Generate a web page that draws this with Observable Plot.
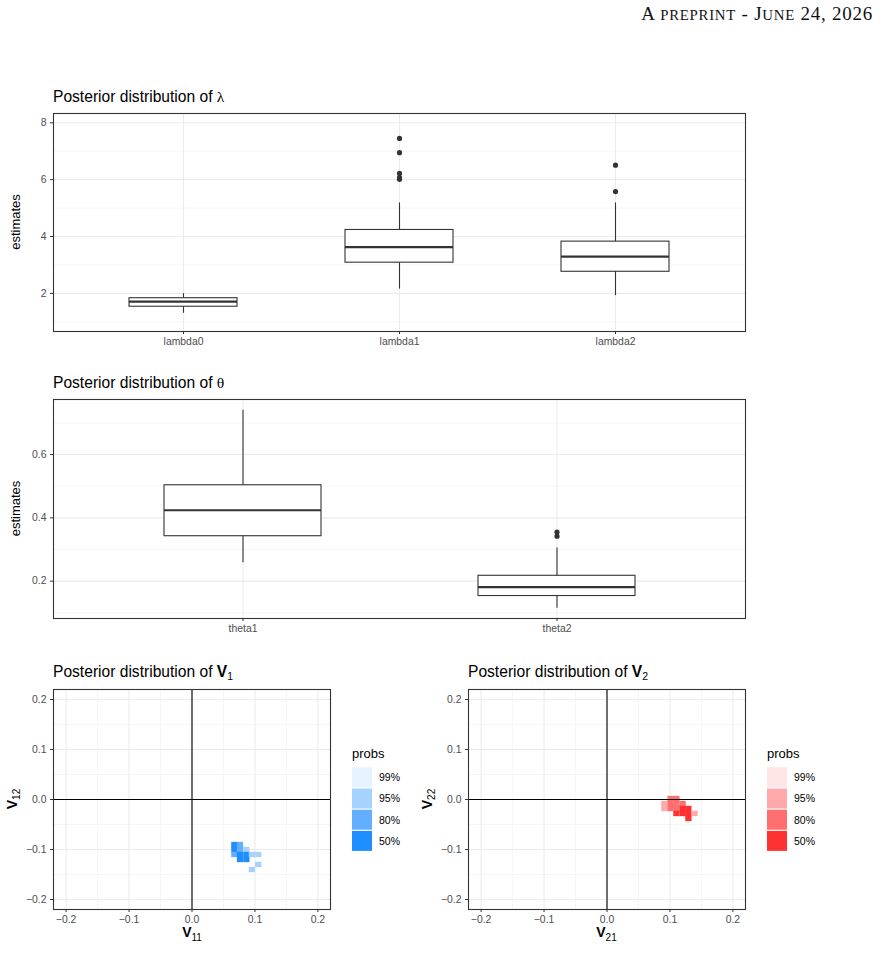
<!DOCTYPE html>
<html>
<head>
<meta charset="utf-8">
<script src="https://cdn.jsdelivr.net/npm/d3@7"></script>
<script src="https://cdn.jsdelivr.net/npm/@observablehq/plot@0.6"></script>
<style>
  body { margin: 0; background: #fff; }
  #page { position: relative; width: 890px; height: 979px; overflow: hidden; background: #fff; }
  #page > .panel { position: absolute; }
  #page > svg.overlay { position: absolute; left: 0; top: 0; pointer-events: none; }
</style>
</head>
<body>
<div id="page"></div>
<script>
// ---- running header: [text, small-caps?] pieces ----
const headerPieces = [["A", false], [" preprint", true], [" - ", false], ["J", false], ["une", true], [" 24, 2026", false]];

// ---- posterior of lambda (box-plot summaries) ----
const lambdaNames = ["lambda0", "lambda1", "lambda2"];
const lambdaLow   = [1.30, 2.15, 1.92];
const lambdaQ1    = [1.53, 3.08, 2.76];
const lambdaMed   = [1.71, 3.63, 3.29];
const lambdaQ3    = [1.83, 4.23, 3.82];
const lambdaHigh  = [1.99, 5.18, 5.18];
const lambdaOutName  = ["lambda1", "lambda1", "lambda1", "lambda1", "lambda1", "lambda2", "lambda2"];
const lambdaOutValue = [7.45, 6.95, 6.22, 6.07, 6.01, 6.51, 5.58];
const lambdaTicks = [2, 4, 6, 8];
const lambdaMinor = [1, 3, 5, 7];
const lambdaDomain = [0.659, 8.327];

// ---- posterior of theta ----
const thetaNames = ["theta1", "theta2"];
const thetaLow   = [0.258, 0.114];
const thetaQ1    = [0.342, 0.153];
const thetaMed   = [0.424, 0.181];
const thetaQ3    = [0.503, 0.217];
const thetaHigh  = [0.740, 0.305];
const thetaOutName  = ["theta2", "theta2"];
const thetaOutValue = [0.355, 0.342];
const thetaTicks = [0.2, 0.4, 0.6];
const thetaMinor = [0.1, 0.3, 0.5, 0.7];
const thetaDomain = [0.082, 0.774];

// ---- highest-density regions of V1 and V2 ----
const vTicks = [-0.2, -0.1, 0, 0.1, 0.2];
const vMinor = [-0.15, -0.05, 0.05, 0.15];
const vDomain = [-0.22, 0.22];
const binX = 0.0095;
const binY = 0.01;
const probLevels = ["99%", "95%", "80%", "50%"];
const blueFill = ["#e7f2ff", "#a6d2ff", "#62afff", "#1f8fff"];
const redFill  = ["#ffe5e5", "#ffaaaa", "#ff6f6f", "#ff3232"];

const v1X = [0.068, 0.068, 0.077, 0.077, 0.087, 0.068, 0.077, 0.087, 0.077, 0.087, 0.096, 0.106, 0.106, 0.096];
const v1Y = [-0.091, -0.101, -0.091, -0.101, -0.101, -0.111, -0.111, -0.111, -0.121, -0.121, -0.111, -0.111, -0.131, -0.141];
const v1Prob = ["50%", "50%", "80%", "80%", "95%", "80%", "50%", "50%", "50%", "50%", "95%", "95%", "95%", "95%"];

const v2X = [0.102, 0.111, 0.092, 0.102, 0.111, 0.121, 0.092, 0.102, 0.111, 0.121, 0.130, 0.111, 0.121, 0.130, 0.140, 0.130];
const v2Y = [0.001, 0.001, -0.009, -0.009, -0.009, -0.009, -0.019, -0.019, -0.019, -0.019, -0.019, -0.029, -0.029, -0.029, -0.029, -0.039];
const v2Prob = ["80%", "80%", "95%", "80%", "80%", "80%", "95%", "80%", "80%", "50%", "50%", "50%", "50%", "50%", "95%", "50%"];

// ---- shared styling ----
const sans = "'Liberation Sans', Arial, Helvetica, sans-serif";
const serif = "'Liberation Serif', 'Times New Roman', serif";
const plotStyle = { fontFamily: sans, fontSize: "10.4px", background: "transparent", overflow: "visible" };
const gridMajor = { stroke: "#ebebeb", strokeWidth: 1.1 };
const gridMinor = { stroke: "#f2f2f2", strokeWidth: 0.7 };
const ink = "#333333";
const tickInk = "#4d4d4d";

const page = document.getElementById("page");
function place(node, left, top) {
  node.classList.add("panel");
  node.style.left = left + "px";
  node.style.top = top + "px";
  page.appendChild(node);
}

function boxPanel({names, low, q1, med, q3, high, outName, outValue, ticks, minor, domain, height, marginBottom, format}) {
  const rows = names.map((name, i) => ({name, low: low[i], q1: q1[i], med: med[i], q3: q3[i], high: high[i]}));
  const outs = outName.map((name, i) => ({name, value: outValue[i]}));
  return Plot.plot({
    width: 760, height,
    marginLeft: 53, marginRight: 15, marginTop: 8, marginBottom,
    style: plotStyle,
    x: { type: "band", domain: names, paddingInner: 0.5, paddingOuter: 0.35 },
    y: { domain },
    marks: [
      Plot.ruleY(minor, gridMinor),
      Plot.ruleY(ticks, gridMajor),
      Plot.ruleX(names, { x: d => d, ...gridMajor }),
      Plot.ruleX(rows, { x: "name", y1: "low", y2: "high", stroke: ink, strokeWidth: 1.1 }),
      Plot.barY(rows, { x: "name", y1: "q1", y2: "q3", fill: "white", stroke: ink, strokeWidth: 1.1 }),
      Plot.tickY(rows, { x: "name", y: "med", stroke: ink, strokeWidth: 2.2 }),
      Plot.dot(outs, { x: "name", y: "value", r: 2.6, fill: ink, stroke: null }),
      Plot.frame({ stroke: ink, strokeWidth: 1.1 }),
      Plot.axisY(ticks, { tickSize: 3, tickPadding: 4, stroke: ink, fill: tickInk, label: null, tickFormat: format }),
      Plot.axisX({ tickSize: 3, tickPadding: 3, stroke: ink, fill: tickInk, label: null })
    ]
  });
}

function hdrPanel({xs, ys, probs, fills}) {
  const cells = xs.map((x, i) => ({x, y: ys[i], prob: probs[i]}));
  const fmt = d3.format(".1f");
  return Plot.plot({
    width: 345, height: 250,
    marginLeft: 53, marginRight: 15, marginTop: 8, marginBottom: 22,
    style: plotStyle,
    x: { domain: vDomain },
    y: { domain: vDomain },
    color: { type: "ordinal", domain: probLevels, range: fills },
    marks: [
      Plot.ruleY(vMinor, gridMinor),
      Plot.ruleX(vMinor, gridMinor),
      Plot.ruleY(vTicks, gridMajor),
      Plot.ruleX(vTicks, gridMajor),
      Plot.rect(cells, {
        x1: d => d.x - binX / 2, x2: d => d.x + binX / 2,
        y1: d => d.y - binY / 2, y2: d => d.y + binY / 2,
        fill: "prob", stroke: "prob", strokeWidth: 0.3
      }),
      Plot.ruleX([0], { stroke: "#000", strokeWidth: 1.1 }),
      Plot.ruleY([0], { stroke: "#000", strokeWidth: 1.1 }),
      Plot.frame({ stroke: ink, strokeWidth: 1.1 }),
      Plot.axisY(vTicks, { tickSize: 3, tickPadding: 4, stroke: ink, fill: tickInk, label: null, tickFormat: fmt }),
      Plot.axisX(vTicks, { tickSize: 3, tickPadding: 3, stroke: ink, fill: tickInk, label: null, tickFormat: fmt })
    ]
  });
}

place(boxPanel({
  names: lambdaNames, low: lambdaLow, q1: lambdaQ1, med: lambdaMed, q3: lambdaQ3, high: lambdaHigh,
  outName: lambdaOutName, outValue: lambdaOutValue, ticks: lambdaTicks, minor: lambdaMinor,
  domain: lambdaDomain, height: 250, marginBottom: 24, format: d3.format("d")
}), 0, 105);

place(boxPanel({
  names: thetaNames, low: thetaLow, q1: thetaQ1, med: thetaMed, q3: thetaQ3, high: thetaHigh,
  outName: thetaOutName, outValue: thetaOutValue, ticks: thetaTicks, minor: thetaMinor,
  domain: thetaDomain, height: 250, marginBottom: 23, format: d3.format(".1f")
}), 0, 391);

place(hdrPanel({ xs: v1X, ys: v1Y, probs: v1Prob, fills: blueFill }), 0, 681);
place(hdrPanel({ xs: v2X, ys: v2Y, probs: v2Prob, fills: redFill }), 415, 681);

// ---- titles, axis titles and legends ----
const svg = d3.select(page).append("svg")
  .attr("class", "overlay")
  .attr("width", 890).attr("height", 979)
  .style("font-family", sans);

// header set in small capitals: lower-case pieces become reduced capitals
const header = svg.append("text")
  .attr("x", 873).attr("y", 20)
  .attr("text-anchor", "end")
  .style("font-family", serif)
  .style("letter-spacing", "0.75px")
  .attr("fill", "#111");
headerPieces.forEach(([s, small]) => {
  header.append("tspan")
    .style("font-size", small ? "14.8px" : "19px")
    .text(small ? s.toUpperCase() : s);
});

function title(x, y, build) {
  const t = svg.append("text").attr("x", x).attr("y", y).attr("fill", "#000").style("font-size", "15.6px");
  t.append("tspan").text("Posterior distribution of ");
  build(t);
}
function greek(t, ch) {
  t.append("tspan").style("font-family", "'Liberation Serif', 'DejaVu Serif', serif").text(ch);
}
function boldSub(t, main, sub, size, subSize, shift) {
  t.append("tspan").style("font-weight", "bold").style("font-size", size + "px").text(main);
  t.append("tspan").attr("dy", shift).style("font-size", subSize + "px").text(sub);
}

title(53, 102, t => greek(t, "λ"));
title(53, 388, t => greek(t, "θ"));
title(53, 677, t => boldSub(t, "V", "1", 15.6, 10.5, 3));
title(468, 677, t => boldSub(t, "V", "2", 15.6, 10.5, 3));

function yTitle(x, y, build) {
  const t = svg.append("text")
    .attr("transform", `translate(${x},${y}) rotate(-90)`)
    .attr("text-anchor", "middle").attr("fill", "#000").style("font-size", "13px");
  build(t);
}
yTitle(19.5, 222, t => t.text("estimates"));
yTitle(19.5, 508.5, t => t.text("estimates"));
yTitle(16.5, 799, t => boldSub(t, "V", "12", 14, 10, 3.5));
yTitle(431.5, 799, t => boldSub(t, "V", "22", 14, 10, 3.5));

function xTitle(x, y, main, sub) {
  const t = svg.append("text").attr("x", x).attr("y", y)
    .attr("text-anchor", "middle").attr("fill", "#000").style("font-size", "13px");
  boldSub(t, main, sub, 14, 10, 4);
}
xTitle(192, 937, "V", "11");
xTitle(606.5, 937, "V", "21");

function legend(x0, fills) {
  const g = svg.append("g");
  g.append("text").attr("x", x0).attr("y", 758).attr("fill", "#000").style("font-size", "13px").text("probs");
  probLevels.forEach((p, i) => {
    const top = 767.3 + i * 21.2;
    g.append("rect").attr("x", x0).attr("y", top).attr("width", 20).attr("height", 20).attr("fill", fills[i]);
    g.append("text").attr("x", x0 + 27).attr("y", top + 13.8)
      .attr("fill", "#000").style("font-size", "10.5px").text(p);
  });
}
legend(352, blueFill);
legend(767, redFill);
</script>
</body>
</html>
